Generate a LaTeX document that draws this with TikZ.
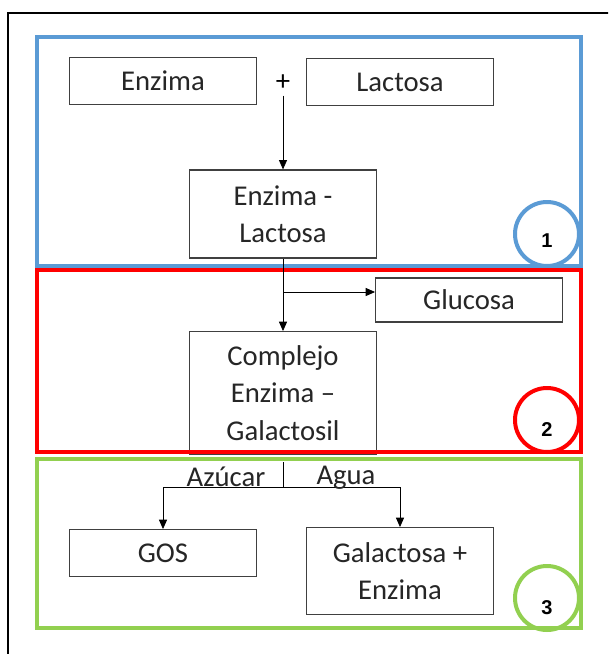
\documentclass[tikz,border=0pt]{standalone}
\usepackage{fontspec}
\setmainfont{Carlito}
\newfontfamily\numfont{Liberation Sans}
\usetikzlibrary{arrows.meta}

\definecolor{stepblue}{RGB}{91,155,213}
\definecolor{stepred}{RGB}{255,0,0}
\definecolor{stepgreen}{RGB}{146,208,80}

\tikzset{
	box/.style={draw=black!75, line width=0.9pt, fill=white, align=center,
		minimum width=140pt, minimum height=35pt, inner sep=2pt,
		text=black!85, font=\fontsize{21.5}{28}\selectfont},
	flow/.style={-{Triangle[length=7pt,width=6pt]}, line width=0.6pt},
	frame/.style={line width=3.6pt},
	mark circle/.style={line width=3pt},
	stepnum/.style={font=\numfont\bfseries\fontsize{15}{15}\selectfont}
}

\begin{document}
\begin{tikzpicture}[x=0.75pt,y=-0.75pt]
\clip (0,0) rectangle (608,654);
\fill[white] (0,0) rectangle (608,654);
\draw[line width=1.5pt] (8,13) rectangle (640,690);

\foreach \c/\y in {stepblue/234,stepred/420,stepgreen/598}{
	\draw[mark circle, \c] (547,\y) circle (32);
}

\node[box](enz) at(163,81) {Enzima};
\node[font=\fontsize{21.5}{24}\selectfont](plus) at(283,83) {+};
\node[box](lac) at(400,82) {Lactosa};
\node[box, minimum height=66pt](enzlac) at(283,214) {Enzima -\\Lactosa};
\node[box, minimum height=33pt](gluc) at(469,300) {Glucosa};
\node[box, minimum height=92pt](cplx) at(283,393) {Complejo\\Enzima –\\Galactosil};
\node[box](gos) at(163,553) {GOS};
\node[box, minimum height=65pt](galenz) at(400,571) {Galactosa +\\Enzima};

\node[stepnum](n1) at(547,241) {1};
\node[stepnum](n2) at(547,430) {2};
\node[stepnum](n3) at(547,608) {3};

\draw[frame, stepblue] (37,37) rectangle (581,266);
\draw[frame, stepred] (37,270) rectangle (581,452);
\draw[frame, stepgreen] (37,459) rectangle (581,628);

\coordinate(fork) at(283,292);
\coordinate(split) at(283,487);

\draw[flow] (plus.south) -- (enzlac.north);
\draw[flow] (enzlac.south) -- (cplx.north);
\draw[flow] (fork) -- (fork -| gluc.west);
\draw[line width=0.6pt] (283,462) -- (split);
\draw[flow] (split) -| (gos.north);
\draw[flow] (split) -| (galenz.north);

\node[font=\fontsize{21.5}{24}\selectfont, anchor=base, text=black!85](azu) at(226,486) {Azúcar};
\node[font=\fontsize{21.5}{24}\selectfont, anchor=base, text=black!85](agua) at(346,484) {Agua};
\end{tikzpicture}
\end{document}
